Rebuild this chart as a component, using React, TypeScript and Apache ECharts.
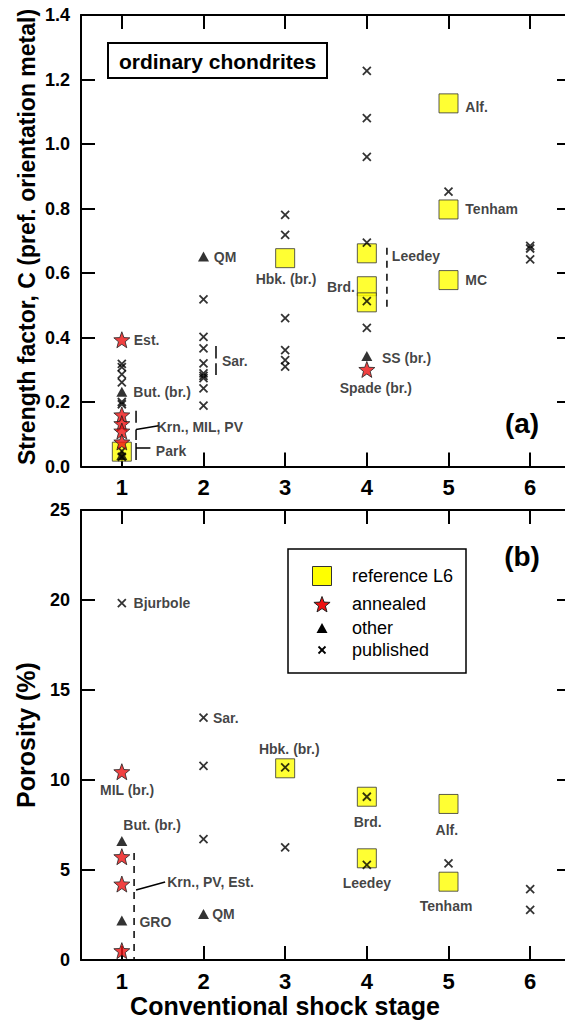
import React, { useEffect, useRef } from "react";
import * as echarts from "echarts";

// ---------- DATA ----------
const stageTicks = [1, 2, 3, 4, 5, 6];
const strengthTicks = [0, 0.2, 0.4, 0.6, 0.8, 1.0, 1.2, 1.4];
const porosityTicks = [0, 5, 10, 15, 20, 25];

// Panel (a): strength factor C
const refL6_C = [[1, 0.046], [3, 0.646], [4, 0.661], [4, 0.559], [4, 0.509], [5, 1.126], [5, 0.797], [5, 0.578]];
const annealed_C = [[1, 0.393], [1, 0.16], [1, 0.133], [1, 0.11], [1, 0.076], [4, 0.301]];
const other_C = [[1, 0.232], [1, 0.036], [2, 0.651], [4, 0.343]];
const published_C = [
  [1, 0.318], [1, 0.308], [1, 0.286], [1, 0.261], [1, 0.2], [1, 0.193], [1, 0.048], [1, 0.03],
  [2, 0.518], [2, 0.402], [2, 0.366], [2, 0.32], [2, 0.289], [2, 0.281], [2, 0.274], [2, 0.242], [2, 0.189],
  [3, 0.78], [3, 0.718], [3, 0.46], [3, 0.361], [3, 0.33], [3, 0.31],
  [4, 1.227], [4, 1.08], [4, 0.96], [4, 0.694], [4, 0.513], [4, 0.43],
  [5, 0.852], [6, 0.684], [6, 0.676], [6, 0.642],
];

// Panel (b): porosity
const refL6_P = [[3, 10.65], [4, 9.07], [4, 5.65], [5, 8.67], [5, 4.35]];
const annealed_P = [[1, 10.46], [1, 5.74], [1, 4.22], [1, 0.52]];
const other_P = [[1, 6.61], [1, 2.19], [2, 2.56]];
const published_P = [[1, 19.83], [2, 13.46], [2, 10.78], [2, 6.72], [3, 10.7], [3, 6.26], [4, 9.07], [4, 5.28], [5, 5.37], [6, 3.94], [6, 2.78]];

// Annotations (data coordinates, anchor side)
const notes_C = [
  { t: "Est.", x: 1.14, y: 0.392, a: "left" },
  { t: "But. (br.)", x: 1.135, y: 0.23, a: "left" },
  { t: "Krn., MIL, PV", x: 1.42, y: 0.124, a: "left" },
  { t: "Park", x: 1.41, y: 0.047, a: "left" },
  { t: "QM", x: 2.12, y: 0.649, a: "left" },
  { t: "Sar.", x: 2.22, y: 0.327, a: "left" },
  { t: "Hbk. (br.)", x: 3.01, y: 0.58, a: "center" },
  { t: "Brd.", x: 3.86, y: 0.557, a: "right" },
  { t: "Leedey", x: 4.3, y: 0.653, a: "left" },
  { t: "MC", x: 5.2, y: 0.578, a: "left" },
  { t: "Alf.", x: 5.2, y: 1.115, a: "left" },
  { t: "Tenham", x: 5.2, y: 0.798, a: "left" },
  { t: "SS (br.)", x: 4.18, y: 0.337, a: "left" },
  { t: "Spade (br.)", x: 4.11, y: 0.243, a: "center" },
];
const notes_P = [
  { t: "Bjurbole", x: 1.137, y: 19.83, a: "left" },
  { t: "Sar.", x: 2.11, y: 13.46, a: "left" },
  { t: "MIL (br.)", x: 1.064, y: 9.44, a: "center" },
  { t: "But. (br.)", x: 1.37, y: 7.5, a: "center" },
  { t: "Krn., PV, Est.", x: 1.55, y: 4.35, a: "left" },
  { t: "GRO", x: 1.21, y: 2.13, a: "left" },
  { t: "QM", x: 2.1, y: 2.56, a: "left" },
  { t: "Hbk. (br.)", x: 3.05, y: 11.7, a: "center" },
  { t: "Brd.", x: 4.01, y: 7.68, a: "center" },
  { t: "Leedey", x: 4.0, y: 4.26, a: "center" },
  { t: "Alf.", x: 4.98, y: 7.22, a: "center" },
  { t: "Tenham", x: 4.97, y: 3.0, a: "center" },
];

// Bracket / leader segments (data coordinates)
const segs_C = [
  { p: [[1.174, 0.173], [1.174, 0.136]], d: false },
  { p: [[1.174, 0.115], [1.174, 0.082]], d: false },
  { p: [[1.174, 0.115], [1.45, 0.126]], d: false },
  { p: [[1.174, 0.073], [1.174, 0.02]], d: false },
  { p: [[1.174, 0.057], [1.35, 0.057]], d: false },
  { p: [[2.153, 0.374], [2.153, 0.335]], d: false },
  { p: [[2.153, 0.32], [2.153, 0.284]], d: false },
  { p: [[4.246, 0.678], [4.246, 0.485]], d: true },
];
const segs_P = [
  { p: [[1.15, 5.94], [1.15, 0]], d: true },
  { p: [[1.174, 3.89], [1.53, 4.33]], d: false },
];

// ---------- STYLE HELPERS ----------
const FONT = "'Liberation Sans', Arial, sans-serif";
const starPts = (cx: number, cy: number, R: number) => {
  const pts: number[][] = [];
  for (let i = 0; i < 10; i++) {
    const r = i % 2 ? R * 0.42 : R;
    const ang = -Math.PI / 2 + (i * Math.PI) / 5;
    pts.push([cx + r * Math.cos(ang), cy + r * Math.sin(ang)]);
  }
  return pts;
};
const STAR = "path://" + starPts(10, 10, 10).map((p, i) => (i ? "L" : "M") + p[0].toFixed(3) + "," + p[1].toFixed(3)).join("") + "Z";
const XMARK = "path://M0,0L10,10M10,0L0,10";

export default function App() {
  const ref = useRef<HTMLDivElement>(null);
  useEffect(() => {
    if (!ref.current) return;
    const chart = echarts.init(ref.current, null, { renderer: "svg" });

    const G = [
      { left: 81, top: 15, width: 490, height: 451.5 },
      { left: 81, top: 510, width: 490, height: 450 },
    ];
    const axisLine = { show: true, onZero: false, lineStyle: { color: "#000", width: 2 } };
    const tick = (vals: number[]) => ({ show: true, inside: true, length: 14, customValues: vals, lineStyle: { color: "#000", width: 2 } });
    const xAxes: any[] = [];
    const yAxes: any[] = [];
    [0, 1].forEach((g) => {
      xAxes.push({
        gridIndex: g, type: "value", min: 0.5, max: 6.5, position: "bottom",
        axisLine, axisTick: tick(stageTicks), splitLine: { show: false },
        axisLabel: { customValues: stageTicks, margin: 10, color: "#000", fontFamily: FONT, fontWeight: "bold", fontSize: 22 },
      });
      xAxes.push({
        gridIndex: g, type: "value", min: 0.5, max: 6.5, position: "top",
        axisLine, axisTick: tick(stageTicks), splitLine: { show: false }, axisLabel: { show: false },
      });
    });
    const yDefs = [
      { min: 0, max: 1.4, ticks: strengthTicks, fmt: (v: number) => v.toFixed(1) },
      { min: 0, max: 25, ticks: porosityTicks, fmt: (v: number) => String(v) },
    ];
    yDefs.forEach((d, g) => {
      yAxes.push({
        gridIndex: g, type: "value", min: d.min, max: d.max, position: "left",
        axisLine, axisTick: tick(d.ticks), splitLine: { show: false },
        axisLabel: { customValues: d.ticks, formatter: d.fmt, margin: 11, color: "#000", fontFamily: FONT, fontWeight: "bold", fontSize: 18 },
      });
      yAxes.push({
        gridIndex: g, type: "value", min: d.min, max: d.max, position: "right",
        axisLine, axisTick: tick(d.ticks), splitLine: { show: false }, axisLabel: { show: false },
      });
    });

    const series: any[] = [];
    const addMarks = (g: number, ref6: number[][], ann: number[][], oth: number[][], pub: number[][]) => {
      const ax = { xAxisIndex: g * 2, yAxisIndex: g * 2 };
      series.push({ type: "scatter", ...ax, data: ref6, symbol: "rect", symbolSize: 19, itemStyle: { color: "#ffff00", borderColor: "#333", borderWidth: 1 }, z: 2 });
      series.push({ type: "scatter", ...ax, data: pub, symbol: XMARK, symbolSize: 8, itemStyle: { color: "none", borderColor: "#000", borderWidth: 1.8 }, z: 3 });
      series.push({ type: "scatter", ...ax, data: ann, symbol: STAR, symbolSize: 16, itemStyle: { color: "#ee1111", borderColor: "#222", borderWidth: 1 }, z: 4 });
      series.push({ type: "scatter", ...ax, data: oth, symbol: "triangle", symbolSize: [11, 10], itemStyle: { color: "#000" }, z: 5 });
    };
    addMarks(0, refL6_C, annealed_C, other_C, published_C);
    addMarks(1, refL6_P, annealed_P, other_P, published_P);

    const addNotes = (g: number, notes: any[]) => {
      series.push({
        type: "scatter", xAxisIndex: g * 2, yAxisIndex: g * 2, symbolSize: 1, silent: true, z: 6,
        itemStyle: { color: "rgba(0,0,0,0)" },
        data: notes.map((n) => ({
          value: [n.x, n.y], name: n.t,
          label: {
            show: true, formatter: n.t,
            position: n.a === "left" ? "right" : n.a === "right" ? "left" : "inside",
            distance: 0, color: "#111", fontFamily: FONT, fontWeight: "bold", fontSize: 14,
          },
        })),
      });
    };
    addNotes(0, notes_C);
    addNotes(1, notes_P);

    const addSegs = (g: number, segs: any[]) => {
      segs.forEach((s) => {
        series.push({
          type: "line", xAxisIndex: g * 2, yAxisIndex: g * 2, data: s.p, symbol: "none", silent: true, z: 6,
          lineStyle: { color: "#000", width: 1.5, type: s.d ? [7, 6] : "solid" },
        });
      });
    };
    addSegs(0, segs_C);
    addSegs(1, segs_P);

    const boldText = (txt: string, x: number, y: number, size: number, rot = 0, weight = "bold") => ({
      type: "text", x, y, rotation: rot, z: 10,
      style: { text: txt, fill: "#000", font: `${weight} ${size}px ${FONT}`, align: "center", verticalAlign: "middle" },
    });

    const legendItems = ["reference L6", "annealed", "other", "published"];
    const legendY = [576, 604, 628, 650];
    const graphic: any[] = [
      boldText("Strength factor, C (pref. orientation metal)", 27, 237, 23, Math.PI / 2),
      boldText("Porosity (%)", 26, 735, 25, Math.PI / 2),
      boldText("Conventional shock stage", 285, 1006, 25),
      boldText("(a)", 522, 423, 28),
      boldText("(b)", 522, 556, 28),
      { type: "rect", shape: { x: 108, y: 43, width: 219, height: 35 }, style: { fill: "#fff", stroke: "#000", lineWidth: 2 }, z: 9 },
      boldText("ordinary chondrites", 217.5, 61, 21),
      { type: "rect", shape: { x: 288, y: 549, width: 178, height: 124 }, style: { fill: "#fff", stroke: "#000", lineWidth: 1.5 }, z: 9 },
      { type: "rect", shape: { x: 312.5, y: legendY[0] - 9.5, width: 19, height: 19 }, style: { fill: "#ffff00", stroke: "#333", lineWidth: 1 }, z: 10 },
      { type: "polygon", shape: { points: starPts(322, legendY[1] + 1, 8.5) }, style: { fill: "#ee1111", stroke: "#222", lineWidth: 1 }, z: 10 },
      { type: "polygon", shape: { points: [[316.5, legendY[2] + 5], [327.5, legendY[2] + 5], [322, legendY[2] - 5]] }, style: { fill: "#000" }, z: 10 },
      { type: "line", shape: { x1: 318.5, y1: legendY[3] - 3.5, x2: 325.5, y2: legendY[3] + 3.5 }, style: { stroke: "#000", lineWidth: 1.8 }, z: 10 },
      { type: "line", shape: { x1: 325.5, y1: legendY[3] - 3.5, x2: 318.5, y2: legendY[3] + 3.5 }, style: { stroke: "#000", lineWidth: 1.8 }, z: 10 },
      ...legendItems.map((t, i) => ({
        type: "text", x: 352, y: legendY[i], z: 10,
        style: { text: t, fill: "#000", font: `normal 18px ${FONT}`, align: "left", verticalAlign: "middle" },
      })),
    ];

    chart.setOption({
      animation: false,
      backgroundColor: "#fff",
      grid: G.map((g) => ({ ...g, containLabel: false, outerBoundsMode: "none" })),
      xAxis: xAxes,
      yAxis: yAxes,
      series,
      graphic,
    });
    return () => chart.dispose();
  }, []);
  return <div ref={ref} style={{ position: "fixed", left: 0, top: 0, width: 565, height: 1020 }} />;
}
